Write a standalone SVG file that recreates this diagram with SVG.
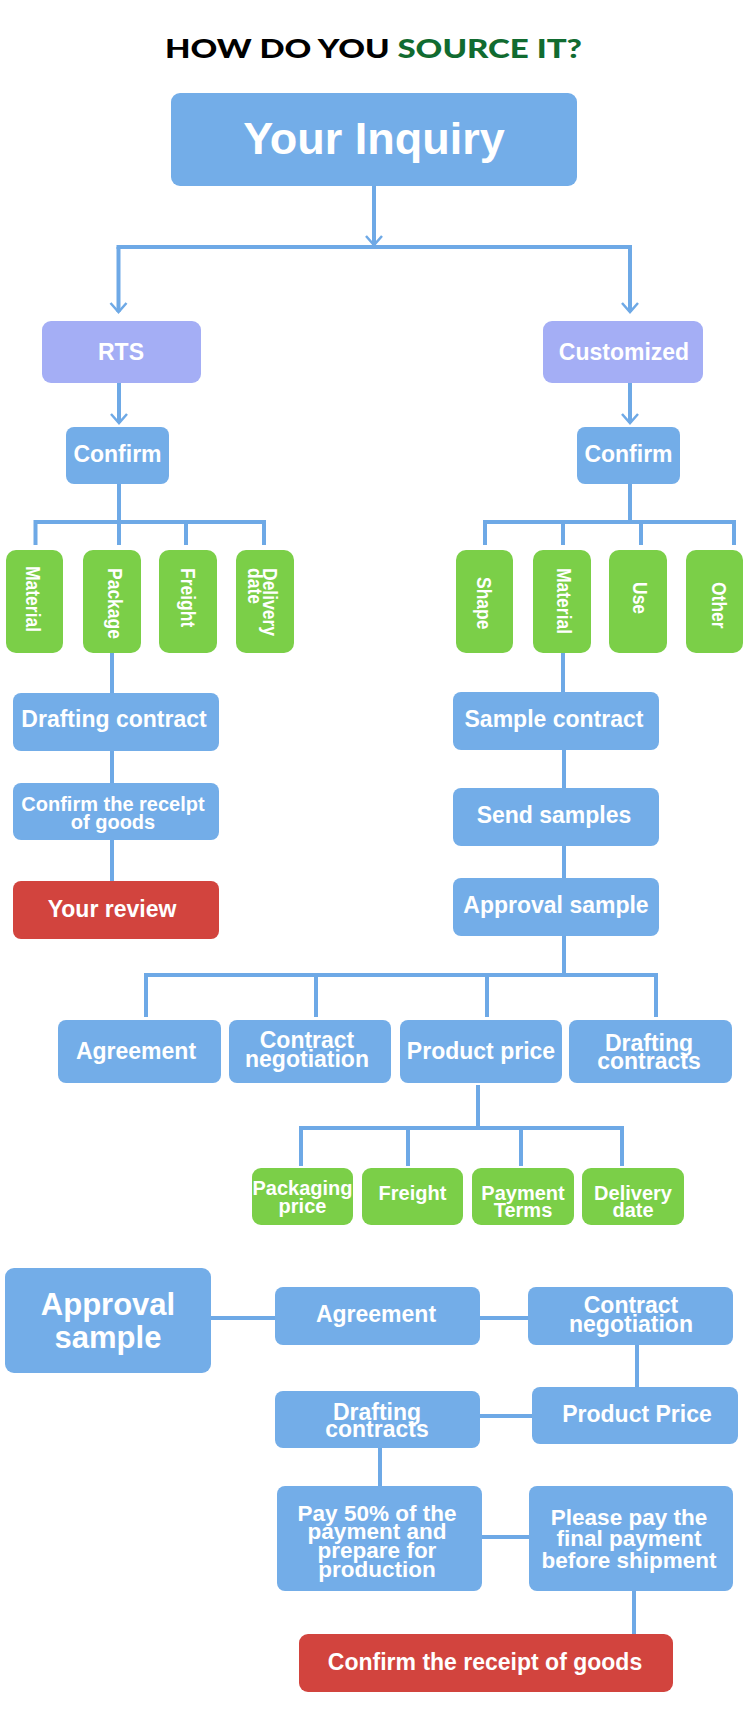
<svg xmlns="http://www.w3.org/2000/svg" width="750" height="1723" viewBox="0 0 750 1723">
<style>
.b{fill:#73ade8}
.p{fill:#a4aef5}
.g{fill:#7bcf48}
.r{fill:#d2443e}
.t{font-family:"Liberation Sans",Arial,sans-serif;font-weight:bold;fill:#fff;text-anchor:middle;font-size:23px}
.v{font-family:"Liberation Sans",Arial,sans-serif;font-weight:bold;fill:#fff;font-size:17.5px}
.c{fill:none;stroke:#6ea9e6;stroke-width:4}
</style>
<defs>
<marker id="arr" viewBox="-1 -10 12 20" refX="9" refY="0" markerWidth="12" markerHeight="20" markerUnits="userSpaceOnUse" orient="auto">
<path d="M0,-8 L9,0 L0,8" fill="none" stroke="#6ea9e6" stroke-width="2.5"/>
</marker>
</defs>
<rect width="750" height="1723" fill="#fff"/>
<text x="165" y="58" textLength="417" lengthAdjust="spacingAndGlyphs" font-family="Lato,'DejaVu Sans',sans-serif" font-weight="900" font-size="27" fill="#000">HOW DO YOU <tspan fill="#116b30">SOURCE IT?</tspan></text>

<g id="connectors">
<path class="c" d="M374,186 V245" marker-end="url(#arr)"/>
<path class="c" d="M118.5,249 V247 H630 V249"/>
<path class="c" d="M118.5,247 V312" marker-end="url(#arr)"/>
<path class="c" d="M630,247 V312" marker-end="url(#arr)"/>
<path class="c" d="M119,383 V423" marker-end="url(#arr)"/>
<path class="c" d="M630,383 V423" marker-end="url(#arr)"/>
<path class="c" d="M119,484 V545 M35.5,545 V522 H264 V545 M186,522 V545"/>
<path class="c" d="M630,484 V522 M485,545 V522 H734 V545 M563,522 V545 M641,522 V545"/>
<path class="c" d="M112,653 V693 M112,751 V783 M112,840 V881"/>
<path class="c" d="M563,653 V692 M564,750 V788 M564,846 V878 M564,936 V975"/>
<path class="c" d="M146,1017 V975 H656 V1017 M316,975 V1017 M487,975 V1017"/>
<path class="c" d="M478,1085 V1128 M301,1166 V1128 H622 V1166 M408,1128 V1166 M521,1128 V1166"/>
<path class="c" d="M211,1318 H275 M480,1318 H528 M637,1345 V1387 M480,1416 H532 M380,1448 V1486 M482,1537 H529 M634,1591 V1634"/>
</g>

<g id="inquiry"><rect class="b" x="171" y="93" width="406" height="93" rx="9"/><text class="t" x="374" y="154" font-size="45" style="font-size:45px">Your Inquiry</text></g>
<g id="rts"><rect class="p" x="42" y="321" width="159" height="62" rx="9"/><text class="t" x="121" y="360">RTS</text></g>
<g id="customized"><rect class="p" x="543" y="321" width="160" height="62" rx="9"/><text class="t" x="624" y="360">Customized</text></g>
<g id="confirmL"><rect class="b" x="66" y="427" width="103" height="57" rx="8"/><text class="t" x="117.5" y="462">Confirm</text></g>
<g id="confirmR"><rect class="b" x="577" y="427" width="103" height="57" rx="8"/><text class="t" x="628.5" y="462">Confirm</text></g>

<g id="materialL"><rect class="g" x="6" y="550" width="57" height="103" rx="10"/><text class="v" transform="translate(26,566) rotate(90) scale(1,1.15)">Material</text></g>
<g id="packageL"><rect class="g" x="83" y="550" width="58" height="103" rx="10"/><text class="v" transform="translate(108,568) rotate(90) scale(1,1.15)">Package</text></g>
<g id="freightL"><rect class="g" x="159" y="550" width="58" height="103" rx="10"/><text class="v" transform="translate(181,568) rotate(90) scale(1,1.15)">Freight</text></g>
<g id="deliveryL"><rect class="g" x="236" y="550" width="58" height="103" rx="10"/><text class="v" transform="translate(263,568) rotate(90) scale(1,1.15)">Delivery</text><text class="v" transform="translate(248,568) rotate(90) scale(1,1.15)">date</text></g>
<g id="shapeR"><rect class="g" x="456" y="550" width="57" height="103" rx="10"/><text class="v" transform="translate(477,577) rotate(90) scale(1,1.15)">Shape</text></g>
<g id="materialR"><rect class="g" x="533" y="550" width="58" height="103" rx="10"/><text class="v" transform="translate(557,568) rotate(90) scale(1,1.15)">Material</text></g>
<g id="useR"><rect class="g" x="609" y="550" width="58" height="103" rx="10"/><text class="v" transform="translate(633,582) rotate(90) scale(1,1.15)">Use</text></g>
<g id="otherR"><rect class="g" x="686" y="550" width="57" height="103" rx="10"/><text class="v" transform="translate(712,582) rotate(90) scale(1,1.15)">Other</text></g>

<g id="draftingL"><rect class="b" x="13" y="693" width="206" height="58" rx="8"/><text class="t" x="114" y="727">Drafting contract</text></g>
<g id="receiptL"><rect class="b" x="13" y="783" width="206" height="57" rx="8"/><text class="t" x="113" y="811" style="font-size:20px">Confirm the recelpt</text><text class="t" x="113" y="829" style="font-size:20px">of goods</text></g>
<g id="reviewL"><rect class="r" x="13" y="881" width="206" height="58" rx="8"/><text class="t" x="112" y="917">Your review</text></g>

<g id="sampleContract"><rect class="b" x="453" y="692" width="206" height="58" rx="8"/><text class="t" x="554" y="727">Sample contract</text></g>
<g id="sendSamples"><rect class="b" x="453" y="788" width="206" height="58" rx="8"/><text class="t" x="554" y="823">Send samples</text></g>
<g id="approvalSample"><rect class="b" x="453" y="878" width="206" height="58" rx="8"/><text class="t" x="556" y="913">Approval sample</text></g>

<g id="agreement1"><rect class="b" x="58" y="1020" width="163" height="63" rx="8"/><text class="t" x="136" y="1059">Agreement</text></g>
<g id="negotiation1"><rect class="b" x="229" y="1020" width="162" height="63" rx="8"/><text class="t" x="307" y="1048">Contract</text><text class="t" x="307" y="1067">negotiation</text></g>
<g id="price1"><rect class="b" x="400" y="1020" width="162" height="63" rx="8"/><text class="t" x="481" y="1059">Product price</text></g>
<g id="drafting1"><rect class="b" x="569" y="1020" width="163" height="63" rx="8"/><text class="t" x="649" y="1051">Drafting</text><text class="t" x="649" y="1069">contracts</text></g>

<g id="packagingPrice"><rect class="g" x="252" y="1168" width="101" height="57" rx="9"/><text class="t" x="302.5" y="1195" style="font-size:20px">Packaging</text><text class="t" x="302.5" y="1213" style="font-size:20px">price</text></g>
<g id="freight2"><rect class="g" x="362" y="1168" width="101" height="57" rx="9"/><text class="t" x="412.5" y="1200" style="font-size:20px">Freight</text></g>
<g id="paymentTerms"><rect class="g" x="472" y="1168" width="102" height="57" rx="9"/><text class="t" x="523" y="1200" style="font-size:20px">Payment</text><text class="t" x="523" y="1217" style="font-size:20px">Terms</text></g>
<g id="delivery2"><rect class="g" x="582" y="1168" width="102" height="57" rx="9"/><text class="t" x="633" y="1200" style="font-size:20px">Delivery</text><text class="t" x="633" y="1217" style="font-size:20px">date</text></g>

<g id="approvalBig"><rect class="b" x="5" y="1268" width="206" height="105" rx="9"/><text class="t" x="108" y="1315" style="font-size:31px">Approval</text><text class="t" x="108" y="1348" style="font-size:31px">sample</text></g>
<g id="agreement2"><rect class="b" x="275" y="1287" width="205" height="58" rx="8"/><text class="t" x="376" y="1322">Agreement</text></g>
<g id="negotiation2"><rect class="b" x="528" y="1287" width="205" height="58" rx="8"/><text class="t" x="631" y="1313">Contract</text><text class="t" x="631" y="1332">negotiation</text></g>
<g id="price2"><rect class="b" x="532" y="1387" width="206" height="57" rx="8"/><text class="t" x="637" y="1422">Product Price</text></g>
<g id="drafting2"><rect class="b" x="275" y="1391" width="205" height="57" rx="8"/><text class="t" x="377" y="1420">Drafting</text><text class="t" x="377" y="1437">contracts</text></g>
<g id="pay50"><rect class="b" x="277" y="1486" width="205" height="105" rx="8"/><text class="t" x="377" y="1521" style="font-size:22.5px">Pay 50% of the</text><text class="t" x="377" y="1539" style="font-size:22.5px">payment and</text><text class="t" x="377" y="1558" style="font-size:22.5px">prepare for</text><text class="t" x="377" y="1577" style="font-size:22.5px">production</text></g>
<g id="finalPay"><rect class="b" x="529" y="1486" width="204" height="105" rx="8"/><text class="t" x="629" y="1525" style="font-size:22.5px">Please pay the</text><text class="t" x="629" y="1546" style="font-size:22.5px">final payment</text><text class="t" x="629" y="1568" style="font-size:22.5px">before shipment</text></g>
<g id="receiptFinal"><rect class="r" x="299" y="1634" width="374" height="58" rx="9"/><text class="t" x="485" y="1670">Confirm the receipt of goods</text></g>
</svg>
